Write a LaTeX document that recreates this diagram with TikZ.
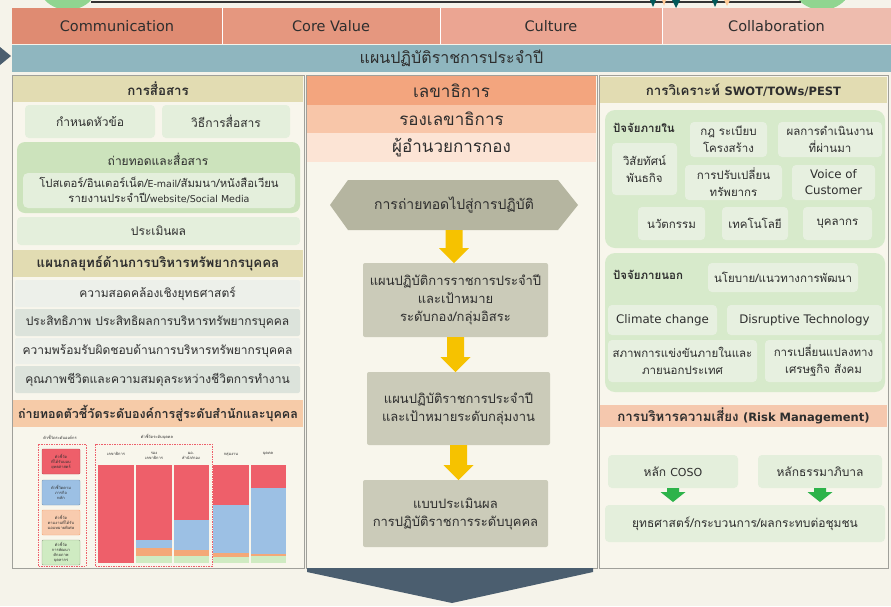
\documentclass[tikz,border=0pt]{standalone}
\usepackage{fontspec}
\setmainfont{DejaVu Sans}
\newfontfamily\thf[Script=Thai]{Loma}
\usetikzlibrary{calc}
\definecolor{bg}{HTML}{F5F3EA}
\definecolor{colbg}{HTML}{F8F6EC}
\definecolor{txt}{HTML}{2E2E2E}
\definecolor{cA}{HTML}{DF8B72}
\definecolor{cB}{HTML}{E5977F}
\definecolor{cC}{HTML}{EBA592}
\definecolor{cD}{HTML}{EEBCAE}
\definecolor{band}{HTML}{8FB6BF}
\definecolor{olive}{HTML}{E2DCB2}
\definecolor{lgr}{HTML}{E4EFDC}
\definecolor{mgr}{HTML}{CCE3BC}
\definecolor{rowA}{HTML}{EDF0EA}
\definecolor{rowB}{HTML}{DCE3DB}
\definecolor{peach}{HTML}{F6CBA8}
\definecolor{secA}{HTML}{F3A57E}
\definecolor{secB}{HTML}{F8C6A9}
\definecolor{secC}{HTML}{FCE4D5}
\definecolor{hexc}{HTML}{B5B5A0}
\definecolor{mbox}{HTML}{CBCBB9}
\definecolor{yel}{HTML}{F6C200}
\definecolor{rgr}{HTML}{D7EACB}
\definecolor{rlt}{HTML}{E7F0E0}
\definecolor{risk}{HTML}{F5C8AE}
\definecolor{garr}{HTML}{2DB34A}
\definecolor{chev}{HTML}{4B5E6F}
\definecolor{frame}{HTML}{A0A09A}
\definecolor{bred}{HTML}{EE5F6A}
\definecolor{bblue}{HTML}{9CC0E4}
\definecolor{bora}{HTML}{F4A878}
\definecolor{bgrn}{HTML}{CFEBC2}
\newcommand\bx[7]{\node[#6,minimum width={(#4-#2)*1pt},minimum height={(#5-#3)*1pt}] (#1) at ({(#2+#4)/2},{(#3+#5)/2}) {#7};}
\newcommand\blockarr[7]{%
 \path[fill=#1] let \p1=(#2.south), \p2=(#3.north) in
  (\x1-#4pt,\y1) -- (\x1+#4pt,\y1) -- (\x1+#4pt,\y2+#7pt+#6pt) -- (\x1+#5pt,\y2+#7pt+#6pt)
  -- (\x1,\y2+#7pt) -- (\x1-#5pt,\y2+#7pt+#6pt) -- (\x1-#4pt,\y2+#7pt+#6pt) -- cycle;}
\newcommand\fs[2]{\fontsize{#1}{#2}\selectfont}
\begin{document}
\begin{tikzpicture}[x=1pt,y=-1pt,
  base/.style={inner sep=1pt,outer sep=0pt,align=center,text=txt},
  cell/.style={base,font=\fs{14.5}{17}},
  th/.style={base,font=\thf\fs{12}{15}},
  hdr/.style={base,fill=olive,font=\thf\bfseries\fs{13.3}{16}},
  lbox/.style={th,fill=lgr,rounded corners=4pt},
  rbox/.style={base,font=\thf\fs{11.5}{17},fill=rlt,rounded corners=4pt},
  lat/.style={font=\fs{11.8}{16}},
  rowa/.style={th,fill=rowA,rounded corners=2pt},
  rowb/.style={th,fill=rowB,rounded corners=2pt},
  sec/.style={base,font=\thf\fs{17}{20}},
  mb/.style={base,fill=mbox,rounded corners=2pt,font=\thf\fs{13}{18}},
  tiny/.style={base,font=\thf\fs{4}{5}},
  colframe/.style={fill=colbg,draw=frame,line width=0.8pt}
]
\useasboundingbox (0,0) rectangle (891,606);
\fill[bg] (0,0) rectangle (891,606);
% top strip decorations
\fill[green!45!gray!60] (68,-22) circle (32);
\fill[green!45!gray!60] (822,-22) circle (32);
\draw[line width=1.6pt,black!80] (91,2) -- (801,2);
\fill[teal!70!black] (650,0) -- (656,0) -- (653,7) -- cycle;
\fill[teal!70!black] (672,0) -- (680,0) -- (676,8) -- cycle;
\fill[orange!40] (662,0) -- (666,0) -- (664,6) -- cycle;
\fill[teal!70!black] (712,0) -- (718,0) -- (715,7) -- cycle;
\fill[orange!40] (724,0) -- (730,0) -- (727,6) -- cycle;
% left pointer
\fill[chev] (0,47) -- (11,56) -- (0,65) -- cycle;
% top cells
\bx{c1}{12}{8}{222}{44}{cell,fill=cA}{Communication}
\bx{c2}{222}{8}{440}{44}{cell,fill=cB}{Core Value}
\bx{c3}{440}{8}{662}{44}{cell,fill=cC}{Culture}
\bx{c4}{662}{8}{891}{44}{cell,fill=cD}{Collaboration}
\draw[white,line width=0.8pt] (c1.north east) -- (c1.south east) (c2.north east) -- (c2.south east) (c3.north east) -- (c3.south east);
\bx{band}{12}{45}{891}{72}{base,fill=band,font=\thf\fs{16}{19}}{แผนปฏิบัติราชการประจำปี}
% column frames
\path[colframe] (12,75) rectangle (304,568);
\path[colframe] (306,75) rectangle (597,568);
\path[colframe] (599,75) rectangle (888,568);
% ---------- left column
\bx{lh1}{13}{76}{303}{102}{hdr}{การสื่อสาร}
\bx{l1}{25}{105}{155}{138}{lbox}{กำหนดหัวข้อ}
\bx{l2}{162}{105}{290}{138}{lbox}{วิธีการสื่อสาร}
\bx{lbig}{17}{142}{300}{213}{base,fill=mgr,rounded corners=8pt}{}
\node[th] (lbt) at (158,159) {ถ่ายทอดและสื่อสาร};
\bx{lin}{23}{173}{295}{208}{lbox,font=\thf\fs{11.3}{15},rounded corners=5pt}{โปสเตอร์/อินเตอร์เน็ต/{\rmfamily\fs{9.5}{15}E-mail}/สัมมนา/หนังสือเวียน\\รายงานประจำปี/{\rmfamily\fs{9.5}{15}website/Social Media}}
\bx{l3}{17}{217}{300}{245}{lbox}{ประเมินผล}
\bx{lh2}{13}{250}{303}{277}{hdr}{แผนกลยุทธ์ด้านการบริหารทรัพยากรบุคคล}
\bx{h1}{15}{280}{300}{307}{rowa}{ความสอดคล้องเชิงยุทธศาสตร์}
\bx{h2}{15}{309}{300}{336}{rowb}{ประสิทธิภาพ ประสิทธิผลการบริหารทรัพยากรบุคคล}
\bx{h3}{15}{338}{300}{364}{rowa}{ความพร้อมรับผิดชอบด้านการบริหารทรัพยากรบุคคล}
\bx{h4}{15}{366}{300}{393}{rowb}{คุณภาพชีวิตและความสมดุลระหว่างชีวิตการทำงาน}
\bx{lh3}{13}{400}{303}{427}{hdr,fill=peach,font=\thf\bfseries\fs{12.5}{15}}{ถ่ายทอดตัวชี้วัดระดับองค์การสู่ระดับสำนักและบุคคล}
% chart
\node[tiny] (ch1) at (60,437) {ตัวชี้วัดระดับองค์กร};
\node[tiny] (ch2) at (157,437) {ตัวชี้วัดระดับบุคคล};
\draw[bred,dashed,dash pattern=on 1.5pt off 1pt,line width=0.6pt] (38,444) rectangle (86,566);
\draw[bred,dashed,dash pattern=on 1.5pt off 1pt,line width=0.6pt] (95,444) rectangle (212,566);
\bx{g1}{42}{449}{80}{474}{tiny,fill=bred,draw=bred!80!black,rounded corners=1pt}{ตัวชี้วัด\\ที่ได้รับมอบ\\ยุทธศาสตร์}
\bx{g2}{42}{480}{80}{505}{tiny,fill=bblue,draw=bblue!80!black,rounded corners=1pt}{ตัวชี้วัดตาม\\ภารกิจ\\หลัก}
\bx{g3}{42}{510}{80}{535}{tiny,fill=bora!60,draw=bora,rounded corners=1pt}{ตัวชี้วัด\\ตามงานที่ได้รับ\\มอบหมายพิเศษ}
\bx{g4}{42}{540}{80}{565}{tiny,fill=bgrn,draw=bgrn!70!black,rounded corners=1pt}{ตัวชี้วัด\\การพัฒนา\\ศักยภาพ\\บุคลากร}
\node[tiny] (t1) at (116,454) {เลขาธิการ};
\node[tiny] (t2) at (154,456) {รอง\\เลขาธิการ};
\node[tiny] (t3) at (191,456) {ผอ.\\สำนัก/กอง};
\node[tiny] (t4) at (231,454) {กลุ่มงาน};
\node[tiny] (t5) at (268,454) {บุคคล};
\fill[bred] (98,465) rectangle (134,563);
\fill[bred] (136,465) rectangle (172,540); \fill[bblue] (136,540) rectangle (172,548); \fill[bora] (136,548) rectangle (172,556); \fill[bgrn] (136,556) rectangle (172,563);
\fill[bred] (174,465) rectangle (209,520); \fill[bblue] (174,520) rectangle (209,550); \fill[bora] (174,550) rectangle (209,556); \fill[bgrn] (174,556) rectangle (209,563);
\fill[bred] (213,465) rectangle (249,505); \fill[bblue] (213,505) rectangle (249,553); \fill[bora] (213,553) rectangle (249,557); \fill[bgrn] (213,557) rectangle (249,563);
\fill[bred] (251,465) rectangle (286,488); \fill[bblue] (251,488) rectangle (286,554); \fill[bora] (251,554) rectangle (286,556); \fill[bgrn] (251,556) rectangle (286,563);
% ---------- middle column
\bx{m1}{307}{76}{596}{105}{sec,fill=secA}{เลขาธิการ}
\bx{m2}{307}{105}{596}{133}{sec,fill=secB}{รองเลขาธิการ}
\bx{m3}{307}{133}{596}{162}{sec,fill=secC}{ผู้อำนวยการกอง}
\fill[hexc] (330,205) -- (348,180) -- (558,180) -- (578,205) -- (558,230) -- (348,230) -- cycle;
\node[base,font=\thf\fs{14}{17},minimum width=248,minimum height=50] (hx) at (454,205) {การถ่ายทอดไปสู่การปฏิบัติ};
\bx{b1}{363}{263}{548}{337}{mb}{แผนปฏิบัติการราชการประจำปี\\และเป้าหมาย\\ระดับกอง/กลุ่มอิสระ}
\bx{b2}{367}{372}{550}{445}{mb}{แผนปฏิบัติราชการประจำปี\\และเป้าหมายระดับกลุ่มงาน}
\bx{b3}{363}{480}{548}{547}{mb}{แบบประเมินผล\\การปฏิบัติราชการระดับบุคคล}
\blockarr{yel}{hx}{b1}{8.5}{15}{15}{0}
\blockarr{yel}{b1}{b2}{8.5}{15}{15}{0}
\blockarr{yel}{b2}{b3}{8.5}{15}{15}{0}
% chevron
\fill[chev] (307,568) -- (593,568) -- (593,572) -- (452,603) -- (307,572) -- cycle;
% ---------- right column
\bx{rh1}{600}{77}{887}{103}{hdr}{การวิเคราะห์ {\rmfamily\bfseries\fs{11.5}{16}SWOT/TOWs/PEST}}
\bx{ibox}{605}{110}{885}{248}{base,fill=rgr,rounded corners=10pt}{}
\node[base,font=\thf\bfseries\fs{11.5}{15},anchor=west] (inl) at (612,128) {ปัจจัยภายใน};
\bx{v1}{612}{143}{677}{195}{rbox}{วิสัยทัศน์\\พันธกิจ}
\bx{v2}{690}{122}{767}{157}{rbox}{กฎ ระเบียบ\\โครงสร้าง}
\bx{v3}{778}{122}{882}{157}{rbox}{ผลการดำเนินงาน\\ที่ผ่านมา}
\bx{v4}{685}{165}{782}{200}{rbox}{การปรับเปลี่ยน\\ทรัพยากร}
\bx{v5}{792}{165}{875}{200}{rbox,lat}{Voice of\\Customer}
\bx{v6}{638}{207}{705}{240}{rbox}{นวัตกรรม}
\bx{v7}{722}{207}{788}{240}{rbox}{เทคโนโลยี}
\bx{v8}{803}{207}{872}{240}{rbox}{บุคลากร}
\bx{ebox}{605}{253}{885}{392}{base,fill=rgr,rounded corners=10pt}{}
\node[base,font=\thf\bfseries\fs{11.5}{15},anchor=west] (exl) at (612,275) {ปัจจัยภายนอก};
\bx{e1}{708}{263}{858}{292}{rbox}{นโยบาย/แนวทางการพัฒนา}
\bx{e2}{608}{305}{717}{335}{rbox,lat}{Climate change}
\bx{e3}{727}{305}{882}{335}{rbox,lat}{Disruptive Technology}
\bx{e4}{608}{340}{757}{382}{rbox}{สภาพการแข่งขันภายในและ\\ภายนอกประเทศ}
\bx{e5}{765}{340}{882}{382}{rbox}{การเปลี่ยนแปลงทาง\\เศรษฐกิจ สังคม}
\bx{rh2}{600}{405}{887}{427}{hdr,fill=risk}{การบริหารความเสี่ยง {\rmfamily\bfseries\fs{11.5}{16}(Risk Management)}}
\bx{k1}{608}{455}{738}{488}{lbox}{หลัก {\rmfamily\fs{11}{15}COSO}}
\bx{k2}{758}{455}{882}{488}{lbox}{หลักธรรมาภิบาล}
\bx{k3}{605}{505}{885}{542}{lbox}{ยุทธศาสตร์/กระบวนการ/ผลกระทบต่อชุมชน}
\blockarr{garr}{k1}{k3}{6}{12.5}{10}{3}
\blockarr{garr}{k2}{k3}{6}{12.5}{10}{3}
\end{tikzpicture}
\end{document}
